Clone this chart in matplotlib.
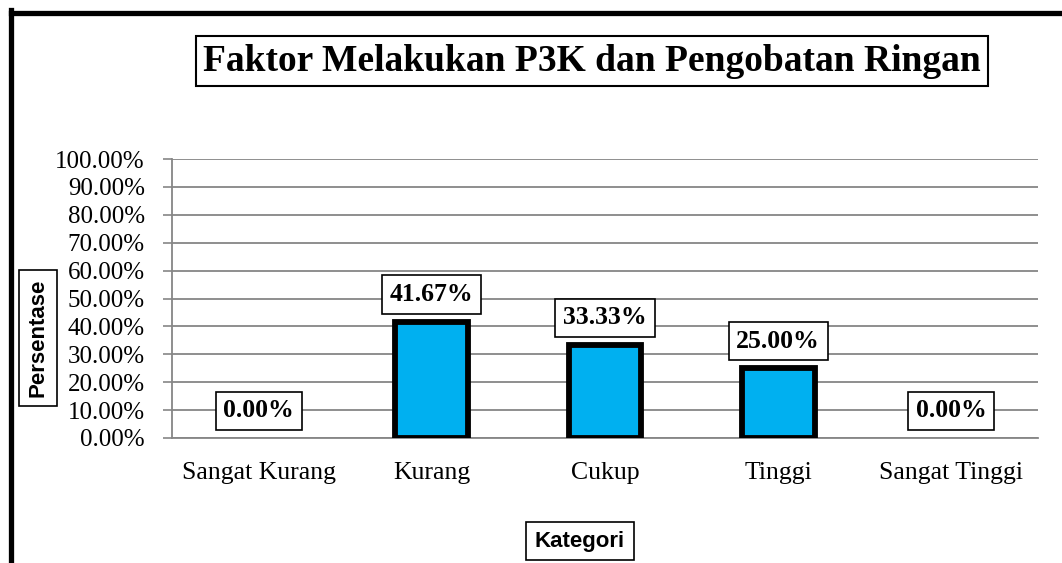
import matplotlib
matplotlib.use('Agg')
import matplotlib.pyplot as plt
from matplotlib.lines import Line2D
from matplotlib.ticker import FuncFormatter
import numpy as np

# Data
kategori = ['Sangat Kurang', 'Kurang', 'Cukup', 'Tinggi', 'Sangat Tinggi']
persentase = [0.00, 41.67, 33.33, 25.00, 0.00]
y_ticks = [0, 10, 20, 30, 40, 50, 60, 70, 80, 90, 100]

plt.rcParams['font.family'] = ['Liberation Serif', 'DejaVu Serif']

fig = plt.figure(figsize=(10.62, 5.63), dpi=100)
ax = fig.add_axes([172 / 1062, 1 - 438 / 563, (1038 - 172) / 1062, (438 - 159) / 563])

x = np.arange(len(kategori))
# batang dengan nilai 0 tidak diberi garis tepi
lebar_tepi = [4.2 if v > 0 else 0 for v in persentase]
ax.bar(x, persentase, width=0.42, color='#00B0F0', edgecolor='black', linewidth=lebar_tepi, zorder=3)

ax.set_xlim(-0.5, len(kategori) - 0.5)
ax.set_ylim(0, 100)
ax.set_yticks(y_ticks)
ax.yaxis.set_major_formatter(FuncFormatter(lambda v, p: f'{v:.2f}%'))
ax.set_xticks(x)
ax.set_xticklabels(kategori)
ax.tick_params(axis='y', labelsize=18, length=6.5, width=1.2, color='#868686', pad=13)
ax.tick_params(axis='x', labelsize=18.5, length=0, pad=17.5)

ax.grid(axis='y', color='#868686', linewidth=1.3, zorder=0)
for side in ['top', 'right']:
    ax.spines[side].set_visible(False)
ax.spines['left'].set_color('#868686')
ax.spines['left'].set_linewidth(1.3)
ax.spines['bottom'].set_color('#868686')
ax.spines['bottom'].set_linewidth(1.3)

# label nilai
for xi, val in zip(x, persentase):
    ax.annotate(f'{val:.2f}%', (xi, val), xytext=(0, 19.5), textcoords='offset points',
                ha='center', va='center', fontsize=18.5, fontweight='bold', zorder=5,
                bbox=dict(boxstyle='square,pad=0.3', facecolor='white', edgecolor='black', linewidth=1.2))

# judul
fig.text(592 / 1062, 1 - 61 / 563, 'Faktor Melakukan P3K dan Pengobatan Ringan',
         ha='center', va='center', fontsize=27, fontweight='bold',
         bbox=dict(boxstyle='square,pad=0.2', facecolor='white', edgecolor='black', linewidth=1.5))

# label sumbu
fig.text(38 / 1062, 1 - 338 / 563, 'Persentase', rotation=90, ha='center', va='center',
         fontsize=16, fontweight='bold', family=['Liberation Sans', 'DejaVu Sans'],
         bbox=dict(boxstyle='square,pad=0.4', facecolor='white', edgecolor='black', linewidth=1.2))
fig.text(580 / 1062, 1 - 541 / 563, 'Kategori', ha='center', va='center',
         fontsize=16, fontweight='bold', family=['Liberation Sans', 'DejaVu Sans'],
         bbox=dict(boxstyle='square,pad=0.4', facecolor='white', edgecolor='black', linewidth=1.2))

# bingkai luar
fig.add_artist(Line2D([10.5 / 1062, 10.5 / 1062], [0, 1 - 10 / 563], transform=fig.transFigure,
                      color='black', linewidth=3.8, solid_capstyle='projecting'))
fig.add_artist(Line2D([10.5 / 1062, 1.0], [1 - 12.5 / 563, 1 - 12.5 / 563], transform=fig.transFigure,
                      color='black', linewidth=3.8, solid_capstyle='projecting'))

plt.savefig('out.png', dpi=100)
